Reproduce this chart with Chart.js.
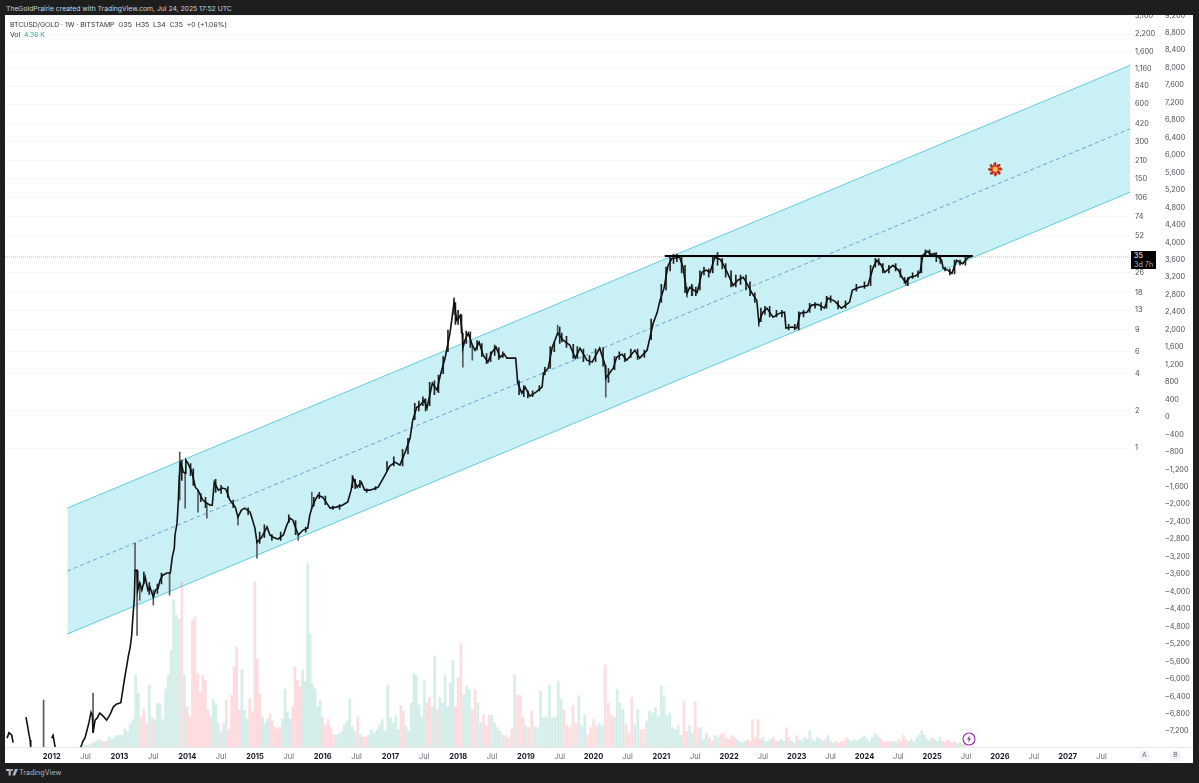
<!DOCTYPE html>
<html>
<head>
<meta charset="utf-8">
<script src="https://cdn.jsdelivr.net/npm/chart.js@4/dist/chart.umd.min.js"></script>
<style>
  html, body { margin: 0; padding: 0; background: #1e1e1e; width: 1199px; height: 783px; overflow: hidden; font-family: Inter, Roboto, sans-serif; }
  #topline { position: absolute; left: 6px; top: 4px; font-size: 6.8px; line-height: 10px; color: #d1d4dc; white-space: nowrap; }
  #panel { position: absolute; left: 5px; top: 15px; width: 1188px; height: 748px; background: #fff; overflow: hidden; }
  #myChart { position: absolute; left: 0; top: -9px; }
  #legend1, #legend2 { position: absolute; left: 5px; font-size: 6.85px; line-height: 10px; color: #2a2e39; white-space: pre; }
  #legend1 { top: 5px; }
  #legend2 { top: 15px; }
  #legend2 span { color: #26a69a; }
  #pricebox { position: absolute; left: 1126px; top: 236px; width: 25px; height: 18px; background: #000; color: #fff; font-size: 7.2px; line-height: 9px; padding-left: 3px; box-sizing: border-box; }
  #pricebox span { color: #b2b5be; }
  #axisline { position: absolute; left: 0; top: 732px; width: 1188px; height: 1px; background: #e6e8ee; }
  .btn { position: absolute; top: 735px; width: 11px; height: 11px; border-radius: 50%; background: #f0f3fa; color: #666; font-size: 6.5px; line-height: 11px; text-align: center; }
  #bolt { position: absolute; left: 957px; top: 717px; }
  #footer { position: absolute; left: 19px; top: 768px; font-size: 7.2px; line-height: 10px; color: #b2b5be; }
  #logo { position: absolute; left: 6px; top: 769px; }
</style>
</head>
<body>
<div id="topline">TheGoldPrairie created with TradingView.com, Jul 24, 2025 17:52 UTC</div>
<div id="panel">
  <canvas id="myChart" width="1188" height="757"></canvas>
  <div id="legend1">BTCUSD/GOLD · 1W · BITSTAMP  O35  H35  L34  C35  +0 (+1.06%)</div>
  <div id="legend2">Vol  <span>4.36 K</span></div>
  <div id="pricebox">35<br><span>3d 7h</span></div>
  <div id="axisline"></div>
  <div class="btn" style="left:1134px">A</div>
  <div class="btn" style="left:1165px">B</div>
  <svg id="bolt" width="14" height="14" viewBox="0 0 14 14"><circle cx="7" cy="7" r="6" fill="#fff" stroke="#9c27b0" stroke-width="1.1"/><path d="M8 3.2 4.9 7.6h2L6 10.8l3.1-4.4h-2z" fill="#7b2d9b"/></svg>
</div>
<svg id="logo" width="12" height="8" viewBox="0 0 12 8"><path d="M0 0h4.8v6.5H2.6V2H0z M6 0a1.1 1.1 0 1 1 0 2.2 1.1 1.1 0 0 1 0-2.2z M9 0h3L9 6.5H6.4z" fill="#b2b5be"/></svg>
<div id="footer">TradingView</div>

<script>
// price pane, closes (year, BTC in oz of gold). null = gap in the history
const closeYears = [
  2011.34, 2011.37, 2011.41, 2011.43, 2011.44,
  2011.62, 2011.64, 2011.66, 2011.68, 2011.69, 2011.70,
  2012.00, 2012.02, 2012.05, 2012.06,
  2012.43, 2012.46, 2012.49, 2012.52, 2012.55, 2012.58, 2012.60, 2012.61, 2012.64, 2012.67, 2012.71, 2012.76, 2012.81, 2012.86, 2012.91, 2012.96,
  2013.02, 2013.05, 2013.08, 2013.11, 2013.13, 2013.16, 2013.18, 2013.20, 2013.22, 2013.23, 2013.26, 2013.27, 2013.30, 2013.33, 2013.38, 2013.42, 2013.45, 2013.50, 2013.53, 2013.57, 2013.60, 2013.64, 2013.70, 2013.75, 2013.78, 2013.81, 2013.82, 2013.85, 2013.87, 2013.88, 2013.90, 2013.93, 2013.94, 2013.97, 2013.98,
  2014.01, 2014.07, 2014.12, 2014.16, 2014.23, 2014.29, 2014.34, 2014.37, 2014.40, 2014.46, 2014.52, 2014.57, 2014.63, 2014.71, 2014.75, 2014.80, 2014.85, 2014.93,
  2015.00, 2015.03, 2015.10, 2015.18, 2015.22, 2015.27, 2015.34, 2015.42, 2015.47, 2015.52, 2015.56, 2015.64, 2015.71, 2015.78, 2015.81, 2015.84, 2015.89, 2015.93,
  2016.00, 2016.06, 2016.11, 2016.20, 2016.29, 2016.37, 2016.42, 2016.45, 2016.51, 2016.57, 2016.62, 2016.70, 2016.82, 2016.92, 2016.99,
  2017.07, 2017.14, 2017.22, 2017.29, 2017.33, 2017.39, 2017.44, 2017.50, 2017.54, 2017.62, 2017.69, 2017.73, 2017.81, 2017.88, 2017.91, 2017.94, 2017.98,
  2018.03, 2018.06, 2018.07, 2018.10, 2018.15, 2018.21, 2018.25, 2018.31, 2018.37, 2018.44, 2018.50, 2018.56, 2018.62, 2018.68, 2018.72, 2018.85, 2018.88, 2018.94, 2018.99,
  2019.06, 2019.15, 2019.24, 2019.26, 2019.33, 2019.39, 2019.47, 2019.55, 2019.65, 2019.73, 2019.80, 2019.90, 2019.98,
  2020.09, 2020.17, 2020.18, 2020.29, 2020.34, 2020.42, 2020.49, 2020.61, 2020.68, 2020.79, 2020.88, 2020.94, 2020.98,
  2021.04, 2021.10, 2021.16, 2021.20, 2021.27, 2021.32, 2021.38, 2021.42, 2021.48, 2021.53, 2021.60, 2021.66, 2021.72, 2021.79, 2021.87, 2021.92, 2021.98,
  2022.06, 2022.13, 2022.21, 2022.28, 2022.34, 2022.41, 2022.44, 2022.50, 2022.56, 2022.65, 2022.75, 2022.82, 2022.84, 2022.93,
  2023.00, 2023.05, 2023.15, 2023.22, 2023.31, 2023.41, 2023.46, 2023.56, 2023.66, 2023.78, 2023.82, 2023.92,
  2024.05, 2024.13, 2024.18, 2024.24, 2024.30, 2024.42, 2024.50, 2024.56, 2024.61, 2024.67, 2024.75, 2024.82, 2024.86, 2024.93, 2024.99,
  2025.03, 2025.14, 2025.16, 2025.23, 2025.29, 2025.36, 2025.45, 2025.53, 2025.57
];
const closeValues = [
  .00455, .00503, .0048, .00418, null,
  .00672, .00585, .00503, .0044, .00385, null,
  .00455, .0048, .00385, null,
  .00385, .0043, .00455, .00525, .0061, .00735, .00695, .00503, .00635, .0066, .00725, .00685, .00635, .00705, .00815, .0086,
  .0088, .0112, .0143, .0178, .0207, .0249, .0308, .0448, .0615, .103, .103, .0713, .0816, .0713, .0909, .0713, .0755, .0626, .0713, .074, .0862, .0942, .098, .098, .132, .156, .199, .248, .381, .552, .757, .689, .641, .629, .8,
  .757, .641, .484, .458, .381, .36, .346, .346, .532, .458, .476, .467, .381, .334, .277, .316, .328, .304,
  .226, .174, .191, .231, .199, .191, .184, .199, .239, .272, .262, .199, .218, .226, .288, .328, .381, .417,
  .402, .36, .328, .334, .346, .367, .458, .572, .484, .532, .458, .458, .484, .605, .716,
  .771, .729, .93, 1.2, 1.68, 2.14, 2.22, 2.44, 2.1, 3.35, 2.94, 3.74, 5.42, 8.49, 11.2, 15.1, 10.8,
  11.8, 8.49, 6.42, 7.44, 8.49, 6.78, 6.17, 7.17, 5.63, 4.95, 5.95, 6.54, 5.42, 5.74, 5.33, 5.33, 3.35, 2.78, 3.11,
  2.63, 2.83, 3.11, 4.03, 4.42, 6.54, 8.49, 7.44, 6.78, 5.33, 6.42, 5.13, 4.95,
  6.42, 4.68, 3.67, 4.42, 5.42, 5.74, 5.13, 6.17, 5.33, 6.17, 10.2, 12.5, 15.6,
  19.6, 29.9, 34.2, 34.2, 34.8, 29, 17.8, 19.9, 18.9, 18.1, 26.3, 27.4, 26.3, 34.8, 33.4, 30, 25.8,
  20.6, 22.7, 24, 20.6, 17.8, 15.6, 10.4, 12.5, 13.5, 11.4, 12.3, 12.5, 9.31, 9.5,
  9.31, 12.3, 12.5, 14.3, 14.5, 13.5, 16.3, 15.4, 13.5, 15.1, 18.8, 19.9,
  20.6, 29, 32.8, 30.5, 26.3, 29.9, 27.4, 23.6, 21.8, 24, 24.5, 26.3, 36, 38.9, 36.6,
  37.3, 32.8, 28.4, 27.4, 25.8, 32.8, 30.9, 34.8, 35
];

// long candle wicks
const wickYears = [2011.88, 2012.61, 2013.23, 2013.26, 2013.30, 2013.50, 2013.74, 2013.89, 2013.97, 2014.16, 2014.29, 2014.75, 2015.03, 2015.64, 2015.84, 2017.94, 2018.07, 2018.21, 2019.47, 2020.18, 2021.38, 2021.46, 2022.44, 2024.61];
const wickLows = [.00385, .00503, .103, .0308, .0592, .0539, .0651, .381, .328, .304, .272, .239, .129, .18, .328, 12, 4.5, 5.13, 8.49, 2.58, 16.6, 17, 9.6, 20.7];
const wickHighs = [.00925, .0105, .171, .103, .0816, .0713, .098, .928, .641, .458, .36, .277, .174, .199, .442, 16.3, 6.42, 6.78, 9.84, 3.67, 19.9, 20.5, 10.4, 23];

// shorter candle bodies between the closes above
const bodyYears = [
  2013.36, 2013.44, 2013.56, 2013.62, 2013.92, 2014.05, 2014.09, 2014.20, 2014.27, 2014.42, 2014.50, 2014.60, 2014.68, 2014.90,
  2015.07, 2015.14, 2015.25, 2015.38, 2015.50, 2015.60, 2015.75, 2015.87, 2015.95, 2016.04, 2016.15, 2016.25, 2016.44, 2016.48, 2016.55, 2016.65, 2016.78, 2016.95,
  2017.05, 2017.18, 2017.26, 2017.36, 2017.42, 2017.48, 2017.52, 2017.58, 2017.65, 2017.71, 2017.78, 2017.85, 2017.96, 2018.00, 2018.05, 2018.12, 2018.18, 2018.28, 2018.35, 2018.42, 2018.48, 2018.54, 2018.60, 2018.66, 2018.90, 2018.97,
  2019.03, 2019.10, 2019.20, 2019.28, 2019.36, 2019.42, 2019.50, 2019.53, 2019.60, 2019.70, 2019.76, 2019.85, 2019.94, 2020.03, 2020.14, 2020.22, 2020.31, 2020.38, 2020.46, 2020.55, 2020.65, 2020.75, 2020.85,
  2021.00, 2021.07, 2021.13, 2021.18, 2021.23, 2021.30, 2021.35, 2021.45, 2021.51, 2021.57, 2021.63, 2021.70, 2021.76, 2021.83, 2021.90, 2021.95, 2022.03, 2022.10, 2022.17, 2022.25, 2022.31, 2022.38, 2022.47, 2022.53, 2022.60, 2022.70, 2022.78, 2022.88, 2022.97,
  2023.03, 2023.10, 2023.19, 2023.27, 2023.36, 2023.44, 2023.50, 2023.61, 2023.72, 2023.88, 2024.00, 2024.09, 2024.16, 2024.21, 2024.27, 2024.36, 2024.46, 2024.53, 2024.59, 2024.64, 2024.71, 2024.79, 2024.84, 2024.90, 2024.96,
  2025.06, 2025.12, 2025.19, 2025.26, 2025.33, 2025.41, 2025.49
];
const bodyLows = [
  .08, .066, .067, .08, .55, .6, .5, .37, .33, .44, .43, .4, .33, .29,
  .17, .19, .18, .18, .25, .2, .21, .34, .39, .35, .32, .32, .48, .47, .48, .44, .46, .66,
  .72, .72, .9, 1.7, 2, 2.2, 2, 2.2, 2.7, 2.8, 4, 6, 10, 10, 8.5, 7, 6.5, 6.2, 5.5, 4.8, 5, 5.6, 5.2, 5.4, 2.7, 2.6,
  2.55, 2.6, 2.9, 3.9, 4.4, 6, 7, 7.2, 6.5, 5.3, 5.3, 5, 4.7, 5, 4.6, 3.4, 4.3, 5.2, 5, 5.4, 5.2, 5.4, 7.5,
  15, 19, 27, 31, 32, 26, 18, 17, 17, 19, 25, 24, 26, 30, 28, 24, 20, 20, 21, 19, 17, 15, 10.5, 12, 11.5, 11.5, 11.5, 9, 9,
  9, 11.5, 12.5, 13.5, 13, 13.5, 15, 13.3, 13.5, 18.5, 19.5, 20.5, 29, 30, 26, 26, 27, 24, 21.5, 20.5, 23.5, 24, 26, 36, 36,
  32, 31, 27, 25, 25.5, 30, 30
];
const bodyHighs = [
  .1, .082, .08, .098, .8, .75, .68, .43, .4, .56, .5, .49, .38, .33,
  .21, .24, .2, .21, .29, .26, .23, .4, .44, .41, .34, .35, .6, .56, .55, .47, .49, .78,
  .85, .98, 1.2, 2.3, 2.4, 2.6, 2.5, 3.4, 3.5, 3.9, 5.5, 9, 15, 13, 12, 8.8, 8.7, 7.4, 7, 5.8, 6, 6.8, 6.5, 6, 3.5, 3.2,
  2.9, 2.9, 3.2, 4.5, 6.6, 7.2, 9.5, 8.5, 8, 6.9, 6.6, 6.3, 5.6, 6.3, 6.5, 4.4, 5.5, 6, 5.8, 6.3, 6.3, 6.2, 11,
  21, 29, 36, 37, 37, 35, 30, 21, 20, 27, 29, 28, 36, 38, 34, 31, 27, 25, 25, 25, 22, 18, 13.5, 14, 14, 13, 13, 10, 10,
  12.6, 13, 14.8, 15, 15, 16.8, 17, 15.5, 15.5, 21, 22, 30, 34, 34, 31, 30, 31, 28, 24, 24, 26, 27, 36, 40, 40,
  38, 36, 29, 28, 33, 33, 35
];

// channel drawn on the chart
const channelYears = [2012.23, 2027.92];
const channelUpper = [.328, 1233];
const channelMiddle = [.1017, 379];
const channelLower = [.03155, 116.5];
const resistanceYears = [2021.05, 2025.6];
const resistanceValues = [35.6, 35.6];
const lastPrice = 35;
const markerYear = [2025.93];
const markerValue = [178.6];

// volume in thousands, one list per calendar year
const volumeStarts = [2012.43, 2013, 2014, 2015, 2016, 2017, 2018, 2019, 2020, 2021, 2022, 2023, 2024, 2025];
const volumeEnds = [2013, 2014, 2015, 2016, 2017, 2018, 2019, 2020, 2021, 2022, 2023, 2024, 2025, 2025.52];
const volume2012 = [2, 2, 3, 3, 5, 6, 9, 11, 9, 8, 9, 15, 12, 14, 17];
const volume2013 = [17, 18, 27, 23, 35, 41, 108, 80, 45, 57, 35, 93, 45, 41, 65, 65, 41, 87, 108, 146, 221, 198, 192, 248, 108];
const volume2014 = [60, 45, 190, 195, 110, 83, 108, 100, 55, 45, 72, 65, 35, 23, 35, 70, 26, 78, 120, 150, 55, 117, 55, 42, 72, 53];
const volume2015 = [248, 132, 80, 45, 35, 42, 50, 39, 30, 27, 30, 42, 87, 53, 42, 60, 120, 100, 90, 115, 98, 275, 170, 95, 87, 60, 70];
const volume2016 = [45, 33, 42, 30, 18, 18, 20, 23, 33, 39, 72, 30, 23, 45, 18, 15, 15, 18, 26, 21, 26, 33, 41, 23, 93];
const volume2017 = [44, 36, 47, 26, 62, 54, 32, 24, 66, 111, 107, 63, 45, 100, 66, 74, 60, 137, 56, 74, 66, 107, 60, 96, 130, 60];
const volume2018 = [104, 155, 78, 92, 86, 56, 86, 66, 36, 48, 32, 47, 48, 36, 29, 23, 18, 17, 14, 27, 108, 77, 77, 44];
const volume2019 = [32, 29, 54, 30, 29, 84, 44, 45, 93, 44, 45, 99, 71, 56, 33, 30, 63, 36, 77, 32, 48, 18, 29];
const volume2020 = [41, 32, 35, 32, 123, 66, 48, 45, 86, 66, 56, 33, 21, 74, 33, 56, 26, 26, 39, 54, 51, 59, 45];
const volume2021 = [92, 77, 47, 51, 29, 26, 32, 18, 69, 23, 32, 21, 68, 29, 29, 11, 21, 14, 9, 17, 14, 18, 21, 14];
const volume2022 = [11, 17, 14, 11, 9, 6, 8, 11, 9, 41, 14, 41, 11, 14, 8, 9, 11, 14, 9, 8, 11, 9, 29, 14, 9, 6];
const volume2023 = [17, 11, 9, 14, 11, 24, 11, 8, 14, 11, 9, 11, 17, 8, 6, 9, 6, 8, 9, 14, 11, 9, 11, 8, 11, 14];
const volume2024 = [17, 11, 8, 14, 20, 18, 14, 9, 7, 9, 8, 9, 7, 11, 9, 18, 11, 8, 11, 8, 14, 18, 24, 18, 11, 9];
const volume2025 = [14, 11, 8, 14, 9, 7, 11, 9, 6, 8, 5, 6, 4, 4];
const volumeByYear = [volume2012, volume2013, volume2014, volume2015, volume2016, volume2017, volume2018, volume2019, volume2020, volume2021, volume2022, volume2023, volume2024, volume2025];

// axes
const logTicks = [1, 2, 4, 6, 9, 13, 18, 26, 52, 74, 106, 150, 210, 300, 420, 600, 840, 1160, 1600, 2200, 3100];
const yearTicks = [2012, 2013, 2014, 2015, 2016, 2017, 2018, 2019, 2020, 2021, 2022, 2023, 2024, 2025, 2026, 2027];
const xMin = 2011.31;
const xMax = 2027.92;

const closePoints = closeYears.map((x, i) => ({ x: x, y: closeValues[i] }));
const wickPoints = wickYears.map((x, i) => ({ x: x, y: [wickLows[i], wickHighs[i]] }));
const bodyPoints = bodyYears.map((x, i) => ({ x: x, y: [bodyLows[i], bodyHighs[i]] }));

function pairs(xs, ys) {
    return xs.map((x, i) => ({ x: x, y: ys[i] }));
}

// volume bar colour follows the direction of the close around that week
function risingAt(year) {
    let last = null;
    let prev = null;
    for (let i = 0; i < closeYears.length && closeYears[i] <= year + 0.02; i++) {
        if (closeValues[i] === null) continue;
        prev = last;
        last = closeValues[i];
    }
    return prev === null || last >= prev;
}

function isYearTick(ctx) {
    return !ctx.tick || Number.isInteger(ctx.tick.value);
}

const volumePoints = [];
const volumeColors = [];
volumeByYear.forEach((list, k) => {
    list.forEach((v, i) => {
        const year = volumeStarts[k] + i * (volumeEnds[k] - volumeStarts[k]) / list.length;
        volumePoints.push({ x: year, y: v });
        volumeColors.push(risingAt(year) ? 'rgba(8, 153, 129, 0.17)' : 'rgba(242, 54, 69, 0.17)');
    });
});

const canvas = document.getElementById('myChart').getContext('2d');

const chart = new Chart(canvas, {
    type: 'bar',
    data: {
        datasets: [
            {
                type: 'line', label: 'upper', data: pairs(channelYears, channelUpper), xAxisID: 'x', yAxisID: 'y',
                borderColor: '#5fcdd9', borderWidth: 1, pointRadius: 0,
                backgroundColor: '#c9f0f5', fill: { target: 2 }, order: 10
            },
            {
                type: 'line', label: 'middle', data: pairs(channelYears, channelMiddle), xAxisID: 'x', yAxisID: 'y',
                borderColor: '#6f9fd8', borderWidth: 1, borderDash: [4, 3], pointRadius: 0, order: 9
            },
            {
                type: 'line', label: 'lower', data: pairs(channelYears, channelLower), xAxisID: 'x', yAxisID: 'y',
                borderColor: '#5fcdd9', borderWidth: 1, pointRadius: 0, order: 9
            },
            {
                type: 'line', label: 'last', data: pairs([xMin, xMax], [lastPrice, lastPrice]), xAxisID: 'x', yAxisID: 'y',
                borderColor: '#b8b8b8', borderWidth: 1, borderDash: [1, 1], pointRadius: 0, order: 8
            },
            {
                type: 'bar', label: 'Vol', data: volumePoints, xAxisID: 'x', yAxisID: 'vol',
                backgroundColor: volumeColors, barThickness: 2, grouped: false, order: 7
            },
            {
                type: 'bar', label: 'wicks', data: wickPoints, xAxisID: 'x', yAxisID: 'y',
                backgroundColor: '#5a5a5a', barThickness: 1, grouped: false, order: 6
            },
            {
                type: 'bar', label: 'bodies', data: bodyPoints, xAxisID: 'x', yAxisID: 'y',
                backgroundColor: '#222', barThickness: 1, grouped: false, order: 5
            },
            {
                type: 'line', label: 'BTCUSD/GOLD', data: closePoints, xAxisID: 'x', yAxisID: 'y',
                borderColor: '#111', borderWidth: 1.6, pointRadius: 0, spanGaps: false, tension: 0, order: 4
            },
            {
                type: 'line', label: 'resistance', data: pairs(resistanceYears, resistanceValues), xAxisID: 'x', yAxisID: 'y',
                borderColor: '#000', borderWidth: 2, pointRadius: 0, order: 3
            },
            {
                type: 'line', label: 'marker', data: pairs(markerYear, markerValue), xAxisID: 'x', yAxisID: 'y',
                showLine: false, pointStyle: 'star', pointRadius: 7, borderColor: '#b3261e', pointBorderWidth: 2, order: 2
            },
            {
                type: 'line', label: 'marker rotated', data: pairs(markerYear, markerValue), xAxisID: 'x', yAxisID: 'y',
                showLine: false, pointStyle: 'star', pointRadius: 6, pointRotation: 30, borderColor: '#d8382a', pointBorderWidth: 1.5, order: 2
            },
            {
                type: 'line', label: 'marker centre', data: pairs(markerYear, markerValue), xAxisID: 'x', yAxisID: 'y',
                showLine: false, pointStyle: 'circle', pointRadius: 3, backgroundColor: '#f9c24a', borderColor: '#e2502a', pointBorderWidth: 1, order: 1
            }
        ]
    },
    options: {
        responsive: false,
        animation: false,
        events: [],
        layout: { padding: 0, autoPadding: false },
        plugins: { legend: { display: false }, tooltip: { enabled: false } },
        scales: {
            x: {
                type: 'linear',
                min: xMin,
                max: xMax,
                offset: false,
                grid: { display: false, drawTicks: false },
                border: { display: false },
                afterFit: (scale) => { scale.height = 16; },
                afterBuildTicks: (scale) => {
                    const list = [];
                    yearTicks.forEach((y) => { list.push({ value: y }); list.push({ value: y + 0.5 }); });
                    scale.ticks = list;
                },
                ticks: {
                    autoSkip: false,
                    maxRotation: 0,
                    padding: 5,
                    callback: (v) => Number.isInteger(v) ? String(v) : 'Jul',
                    color: (ctx) => isYearTick(ctx) ? '#131722' : '#6a6d78',
                    font: (ctx) => ({ family: 'Inter', size: 7.5, weight: isYearTick(ctx) ? 'bold' : 'normal' })
                }
            },
            y: {
                type: 'logarithmic',
                position: 'right',
                min: 0.00386,
                max: 3125,
                grid: { color: '#f4f5f7', drawTicks: false },
                border: { display: false },
                afterFit: (scale) => { scale.width = 30; },
                afterBuildTicks: (scale) => { scale.ticks = logTicks.map((v) => ({ value: v })); },
                ticks: {
                    autoSkip: false,
                    padding: 5,
                    color: '#4a4d57',
                    font: { family: 'Inter', size: 7.3 },
                    callback: (v) => Number(v).toLocaleString('en-US')
                }
            },
            y2: {
                type: 'linear',
                position: 'right',
                min: -7560,
                max: 9200,
                grid: { display: false, drawTicks: false },
                border: { display: false },
                afterFit: (scale) => { scale.width = 33; },
                afterBuildTicks: (scale) => {
                    const list = [];
                    for (let v = -7200; v <= 9200; v += 400) list.push({ value: v });
                    scale.ticks = list;
                },
                ticks: {
                    autoSkip: false,
                    padding: 5,
                    color: '#4a4d57',
                    font: { family: 'Inter', size: 7.3 },
                    callback: (v) => Number(v).toLocaleString('en-US').replace('-', '\u2212')
                }
            },
            vol: {
                type: 'linear',
                display: false,
                min: 0,
                max: 1098
            }
        }
    }
});
</script>
</body>
</html>
